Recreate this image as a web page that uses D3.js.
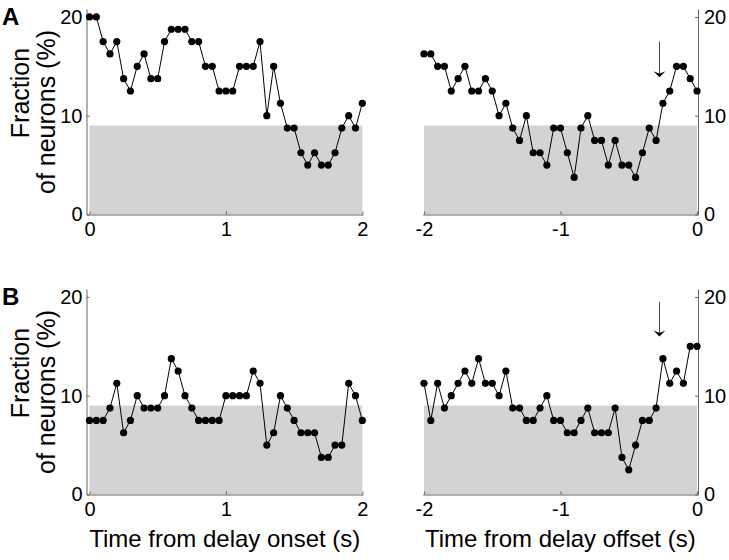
<!DOCTYPE html>
<html><head><meta charset="utf-8">
<script src="https://cdn.jsdelivr.net/npm/d3@7"></script>
<style>body{margin:0;background:#fff} svg{display:block} text{font-family:"Liberation Sans",Arial,sans-serif;fill:#000}</style>
</head><body><svg id="c" width="729" height="560"></svg>
<script>
const onsetTimes = [0,0.05,0.1,0.15,0.2,0.25,0.3,0.35,0.4,0.45,0.5,0.55,0.6,0.65,0.7,0.75,0.8,0.85,0.9,0.95,1,1.05,1.1,1.15,1.2,1.25,1.3,1.35,1.4,1.45,1.5,1.55,1.6,1.65,1.7,1.75,1.8,1.85,1.9,1.95,2];
const offsetTimes = [-2,-1.95,-1.9,-1.85,-1.8,-1.75,-1.7,-1.65,-1.6,-1.55,-1.5,-1.45,-1.4,-1.35,-1.3,-1.25,-1.2,-1.15,-1.1,-1.05,-1,-0.95,-0.9,-0.85,-0.8,-0.75,-0.7,-0.65,-0.6,-0.55,-0.5,-0.45,-0.4,-0.35,-0.3,-0.25,-0.2,-0.15,-0.1,-0.05,0];
const aOnset = [20,20,17.5,16.25,17.5,13.75,12.5,15,16.25,13.75,13.75,17.5,18.75,18.75,18.75,17.5,17.5,15,15,12.5,12.5,12.5,15,15,15,17.5,10,15,11.25,8.75,8.75,6.25,5,6.25,5,5,6.25,8.75,10,8.75,11.25];
const aOffset = [16.25,16.25,15,15,12.5,13.75,15,12.5,12.5,13.75,12.5,10,11.25,8.75,7.5,10,6.25,6.25,5,8.75,8.75,6.25,3.75,8.75,10,7.5,7.5,5,7.5,5,5,3.75,6.25,8.75,7.5,11.25,12.5,15,15,13.75,12.5];
const bOnset = [7.5,7.5,7.5,8.75,11.25,6.25,7.5,10,8.75,8.75,8.75,10,13.75,12.5,10,8.75,7.5,7.5,7.5,7.5,10,10,10,10,12.5,11.25,5,6.25,10,8.75,7.5,6.25,6.25,6.25,3.75,3.75,5,5,11.25,10,7.5];
const bOffset = [11.25,7.5,11.25,8.75,10,11.25,12.5,11.25,13.75,11.25,11.25,10,12.5,8.75,8.75,7.5,7.5,8.75,10,7.5,7.5,6.25,6.25,7.5,8.75,6.25,6.25,6.25,8.75,3.75,2.5,5,7.5,7.5,8.75,13.75,11.25,12.5,11.25,15,15];
const yTicks = [0, 10, 20];
const onsetTicks = [0, 1, 2];
const offsetTicks = [-2, -1, 0];
const threshold = 9;
const arrowA = {x: -0.275, from: 17.5, to: 13.9};
const arrowB = {x: -0.275, from: 19.5, to: 16.0};
const panelLetters = ["A", "B"];
const yTitle = ["Fraction", "of neurons (%)"];
const xTitles = ["Time from delay onset (s)", "Time from delay offset (s)"];

const svg = d3.select("#c");
const rows = [
  {top: 0, left: aOnset, right: aOffset, arrow: arrowA, letter: panelLetters[0]},
  {top: 280, left: bOnset, right: bOffset, arrow: arrowB, letter: panelLetters[1]}
];

rows.forEach((row, ri) => {
  const g = svg.append("g").attr("transform", `translate(0,${row.top})`);
  const y = d3.scaleLinear().domain([0, 20.8]).range([214.5, 9]);
  const xL = d3.scaleLinear().domain([-0.022, 2.005]).range([86.5, 363]);
  const xR = d3.scaleLinear().domain([-2.01, 0.007]).range([422.6, 698]);

  g.append("text").text(row.letter).attr("x", 2).attr("y", 25)
    .style("font-weight", "bold").style("font-size", "24px");

  const panels = [
    {x: xL, times: onsetTimes, vals: row.left, ticks: onsetTicks, side: "left", band: [0, 2]},
    {x: xR, times: offsetTimes, vals: row.right, ticks: offsetTicks, side: "right", band: [-2, 0]}
  ];
  panels.forEach((p, pi) => {
    g.append("rect")
      .attr("x", p.x(p.band[0])).attr("width", p.x(p.band[1]) - p.x(p.band[0]))
      .attr("y", y(threshold)).attr("height", y(0) - y(threshold))
      .attr("fill", "#d3d3d3");

    const xa = d3.axisBottom(p.x).tickValues(p.ticks).tickSizeInner(-3).tickSizeOuter(0).tickPadding(7)
      .tickFormat(d => String(d));
    const gx = g.append("g").attr("transform", `translate(0,${y(0)})`).call(xa);
    const ya = (p.side === "left" ? d3.axisLeft(y) : d3.axisRight(y))
      .tickValues(yTicks).tickSizeInner(-3).tickSizeOuter(0).tickPadding(p.side === "left" ? 4 : 6);
    const gy = g.append("g").attr("transform", `translate(${p.side === "left" ? p.x.range()[0] : p.x.range()[1]},0)`).call(ya);
    [gx, gy].forEach(a => {
      a.select(".domain").attr("stroke", "#666").attr("stroke-width", 1);
      a.selectAll(".tick line").attr("stroke", "#666");
      a.selectAll(".tick text").style("font-size", "20px").attr("fill", "#000")
        .style("font-family", '"Liberation Sans", Arial, sans-serif');
    });

    const pts = p.times.map((t, i) => [t, p.vals[i]]);
    g.append("path").datum(pts)
      .attr("d", d3.line().x(d => p.x(d[0])).y(d => y(d[1])))
      .attr("fill", "none").attr("stroke", "#000").attr("stroke-width", 1);
    g.selectAll(null).data(pts).enter().append("circle")
      .attr("cx", d => p.x(d[0])).attr("cy", d => y(d[1])).attr("r", 3.6).attr("fill", "#000");

    if (ri === 1) {
      g.append("text").text(xTitles[pi])
        .attr("x", (p.x.range()[0] + p.x.range()[1]) / 2).attr("y", 267)
        .attr("text-anchor", "middle").style("font-size", "24px");
    }
    if (p.side === "right") {
      const ax = p.x(row.arrow.x), y0 = y(row.arrow.from), y1 = y(row.arrow.to);
      g.append("line").attr("x1", ax).attr("x2", ax).attr("y1", y0).attr("y2", y1 - 3)
        .attr("stroke", "#444").attr("stroke-width", 1);
      g.append("path")
        .attr("d", `M${ax - 6},${y1 - 6} L${ax},${y1} L${ax + 6},${y1 - 6} L${ax},${y1 - 3.5} Z`)
        .attr("fill", "#000");
    }
  });

  g.append("text").text(yTitle[0]).attr("transform", "translate(29,93) rotate(-90)")
    .attr("text-anchor", "middle").style("font-size", "25px");
  g.append("text").text(yTitle[1]).attr("transform", "translate(55,112) rotate(-90)")
    .attr("text-anchor", "middle").style("font-size", "25px");
});
</script></body></html>
